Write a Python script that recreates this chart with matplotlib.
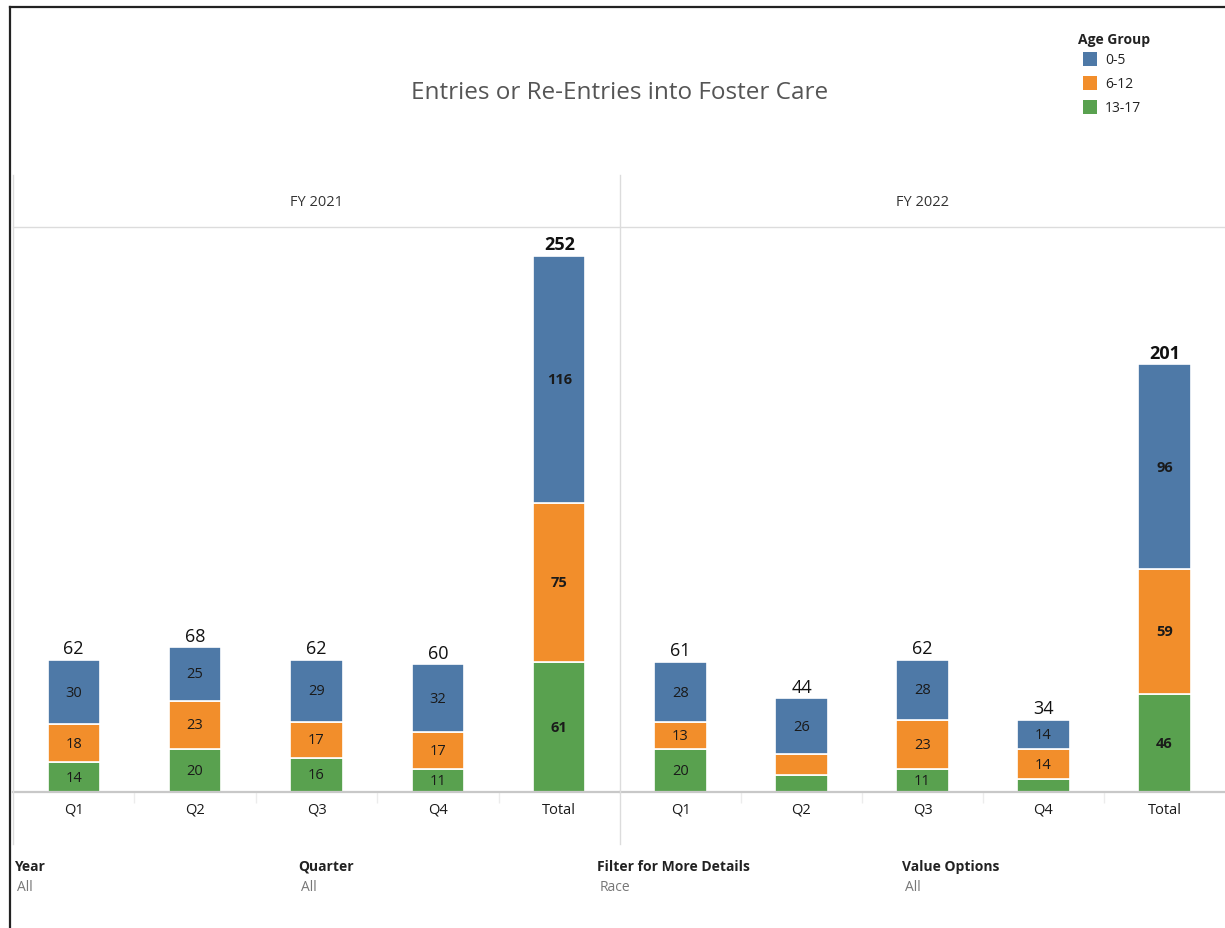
import matplotlib
matplotlib.use("Agg")
import matplotlib.pyplot as plt
from matplotlib.lines import Line2D
from matplotlib.patches import Rectangle

plt.rcParams['font.family'] = ['Open Sans', 'DejaVu Sans']

# ---------------- data ----------------
years = ["FY 2021", "FY 2022"]
categories = ["Q1", "Q2", "Q3", "Q4", "Total"]
age_groups = ["0-5", "6-12", "13-17"]
colors = ["#4e79a7", "#f28e2b", "#59a14f"]

fy2021_0_5 = [30, 25, 29, 32, 116]
fy2021_6_12 = [18, 23, 17, 17, 75]
fy2021_13_17 = [14, 20, 16, 11, 61]

fy2022_0_5 = [28, 26, 28, 14, 96]
fy2022_6_12 = [13, 10, 23, 14, 59]
fy2022_13_17 = [20, 8, 11, 6, 46]

filter_names = ["Year", "Quarter", "Filter for More Details", "Value Options"]
filter_values = ["All", "All", "Race", "All"]

# ---------------- layout ----------------
W, H = 1225, 929
fig = plt.figure(figsize=(W / 100, H / 100), dpi=100)
fig.patch.set_facecolor("white")


def fx(x):
    return x / W


def fy(y):
    return 1 - y / H


base_y, top_y = 793, 228
panels = [(13, 620), (620, 1225)]
series = [
    [fy2021_13_17, fy2021_6_12, fy2021_0_5],
    [fy2022_13_17, fy2022_6_12, fy2022_0_5],
]
ymax = 265.6
text_dark = "#333333"

for p, ((x0, x1), data) in enumerate(zip(panels, series)):
    ax = fig.add_axes([fx(x0), fy(base_y), fx(x1) - fx(x0), fy(top_y) - fy(base_y)])
    ax.set_xlim(-0.5, len(categories) - 0.5)
    ax.set_ylim(0, ymax)
    for s in ["top", "right", "left"]:
        ax.spines[s].set_visible(False)
    ax.spines["bottom"].set_color("#c8c8c8")
    ax.spines["bottom"].set_linewidth(1.6)
    ax.set_yticks([])
    xs = list(range(len(categories)))
    bottoms = [0] * len(categories)
    # stack: green (13-17) bottom, orange, blue top
    stack_colors = [colors[2], colors[1], colors[0]]
    for vals, col in zip(data, stack_colors):
        ax.bar(xs, vals, bottom=bottoms, width=0.43, color=col,
               edgecolor="white", linewidth=1.2, zorder=2)
        for i, (v, b) in enumerate(zip(vals, bottoms)):
            if v >= 11:
                ax.text(i, b + v / 2, str(v), ha="center", va="center",
                        fontsize=10.5, color="#1a1a1a",
                        fontweight="bold" if categories[i] == "Total" else "normal",
                        zorder=3)
        bottoms = [b + v for b, v in zip(bottoms, vals)]
    for i, tot in enumerate(bottoms):
        is_total = categories[i] == "Total"
        ax.annotate(str(tot), (i, tot), xytext=(0, 2), textcoords="offset points",
                    ha="center", va="bottom", fontsize=13, color="#111111",
                    fontweight="bold" if is_total else "normal")
    ax.set_xticks(xs)
    ax.set_xticklabels(categories, fontsize=10.5, color="#1a1a1a")
    ax.tick_params(axis="x", length=0, pad=7)
    ax.set_xticks([i + 0.5 for i in range(len(categories) - 1)], minor=True)
    ax.tick_params(axis="x", which="minor", length=8, color="#ececec", width=1)
    ax.patch.set_alpha(0)
    # panel header
    fig.text(fx((x0 + x1) / 2), fy(202), years[p], ha="center", va="center",
             fontsize=10.5, color=text_dark)

# grid lines of the table
line_col = "#dcdcdc"
for x in [13, 620]:
    fig.add_artist(Line2D([fx(x), fx(x)], [fy(176), fy(845)], color=line_col, lw=1))
fig.add_artist(Line2D([fx(13), fx(1225)], [fy(228), fy(228)], color=line_col, lw=1))

# outer frame
fig.add_artist(Line2D([fx(10), fx(10)], [fy(8), fy(929)], color="#222222", lw=1.6))
fig.add_artist(Line2D([fx(10), fx(1225)], [fy(8), fy(8)], color="#222222", lw=1.6))

# title
fig.text(fx(620), fy(93), "Entries or Re-Entries into Foster Care", ha="center",
         va="center", fontsize=17.5, color="#555555")

# legend
fig.text(fx(1078), fy(40), "Age Group", ha="left", va="center", fontsize=10,
         fontweight="bold", color="#222222")
for k, (lab, col) in enumerate(zip(age_groups, colors)):
    yc = 60 + 24 * k
    fig.add_artist(Rectangle((fx(1083), fy(yc + 7)), fx(14), fy(0) - fy(14),
                             facecolor=col, edgecolor="none"))
    fig.text(fx(1105), fy(yc), lab, ha="left", va="center", fontsize=10,
             color="#222222")

# filters at the bottom
filter_x = [14, 298, 597, 902]
for name, val, x in zip(filter_names, filter_values, filter_x):
    fig.text(fx(x), fy(867), name, ha="left", va="center", fontsize=10,
             fontweight="bold", color="#222222")
    fig.text(fx(x + 3), fy(888), val, ha="left", va="center", fontsize=10,
             color="#777777")

fig.savefig("out.png", dpi=100, facecolor="white")
